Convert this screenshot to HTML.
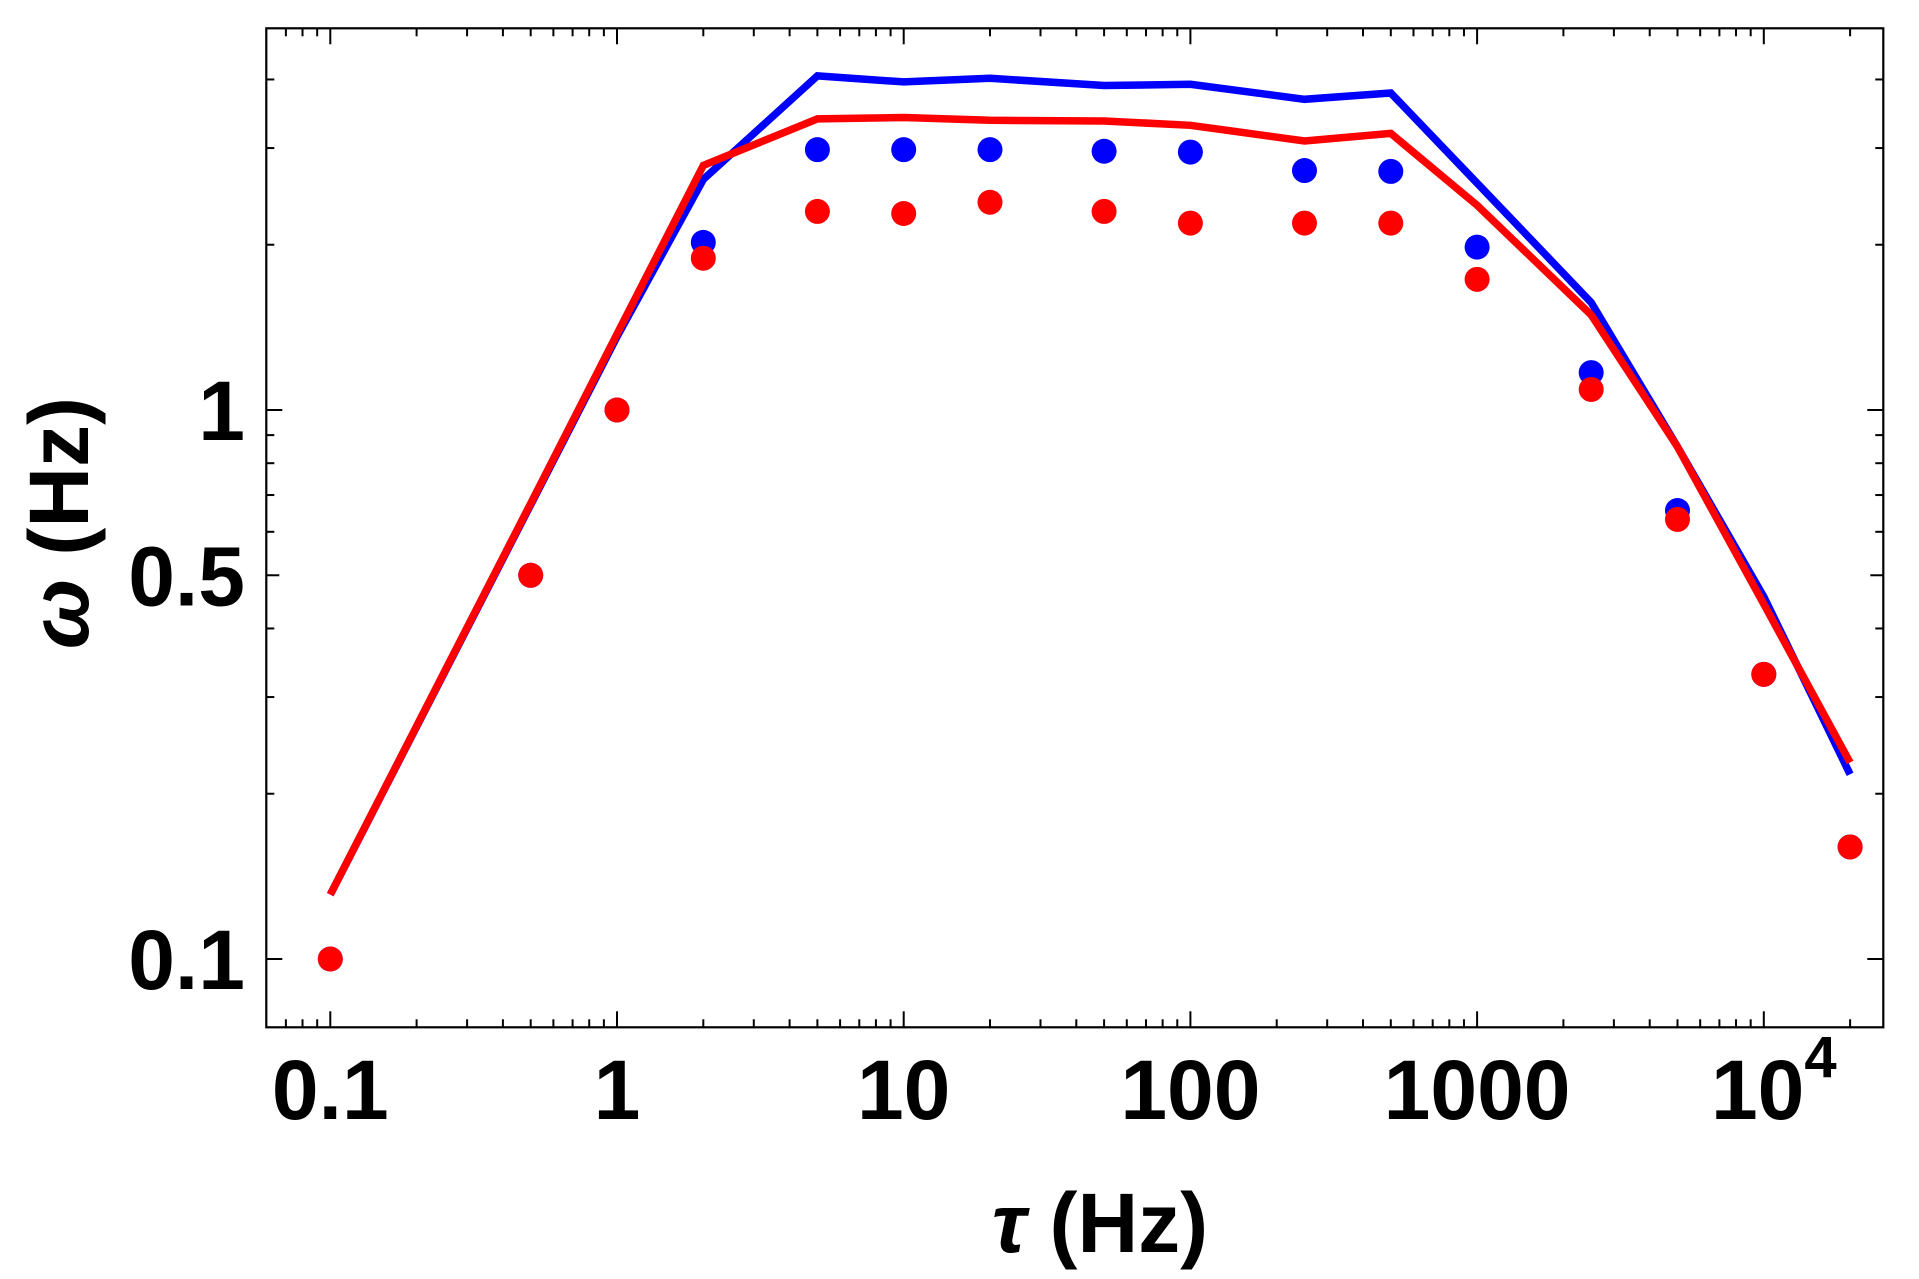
<!DOCTYPE html>
<html><head><meta charset="utf-8"><style>
html,body{margin:0;padding:0;background:#fff;}
svg{display:block;font-family:"Liberation Sans",sans-serif;}
</style></head><body>
<svg id="chart" width="1919" height="1279" viewBox="0 0 1919 1279" xmlns="http://www.w3.org/2000/svg">
<rect x="266.3" y="28.3" width="1617" height="999" fill="none" stroke="#000" stroke-width="2.2"/>
<g id="ticks"></g>
<g id="lines"></g>
<g id="dots"></g>
<g id="labels" font-weight="bold" font-size="84"></g>
<text x="1100" y="1252" text-anchor="middle" font-weight="bold" font-size="84"><tspan font-style="italic">τ</tspan> (Hz)</text>
<text transform="translate(88,523) rotate(-90)" text-anchor="middle" font-weight="bold" font-size="84"><tspan font-style="italic">ω</tspan> (Hz)</text>
</svg>
<script>
const xVals = [0.1, 0.5, 1, 2, 5, 10, 20, 50, 100, 250, 500, 1000, 2500, 5000, 10000, 20000];
const blueLine = [0.131, 0.672, 1.36, 2.63, 4.06, 3.96, 4.02, 3.90, 3.92, 3.68, 3.78, 2.59, 1.57, 0.857, 0.457, 0.217];
const redLine  = [0.131, 0.676, 1.375, 2.79, 3.39, 3.41, 3.37, 3.36, 3.30, 3.09, 3.19, 2.36, 1.49, 0.857, 0.443, 0.228];
const blueDots = [0.1, 0.5, 1, 2.02, 2.98, 2.98, 2.98, 2.96, 2.95, 2.73, 2.72, 1.98, 1.17, 0.656, 0.330, 0.160];
const redDots  = [0.1, 0.5, 1, 1.89, 2.30, 2.28, 2.39, 2.30, 2.19, 2.19, 2.19, 1.73, 1.09, 0.632, 0.330, 0.160];
const xTickLabels = ["0.1", "1", "10", "100", "1000", "10^4"];
const xTickValues = [0.1, 1, 10, 100, 1000, 10000];
const yTickLabels = ["0.1", "0.5", "1"];
const yTickValues = [0.1, 0.5, 1];

const NS = "http://www.w3.org/2000/svg";
const X0 = 330.3, XD = 286.7, Y0 = 410, YD = 549;
const L = 266.3, R = 1883.3, T = 28.3, B = 1027.3;
function sx(v){ return X0 + (Math.log10(v) + 1) * XD; }
function sy(v){ return Y0 - Math.log10(v) * YD; }
function mk(tag, attrs, parent){ const e = document.createElementNS(NS, tag); for (const k in attrs) e.setAttribute(k, attrs[k]); parent.appendChild(e); return e; }

const tg = document.getElementById('ticks');
for (let d = -2; d <= 4; d++) {
  for (let m = 1; m <= 9; m++) {
    const v = m * Math.pow(10, d);
    const x = sx(v);
    if (x < L + 1 || x > R - 1) continue;
    const len = m === 1 ? 16 : 8;
    const t1 = mk('line', {x1:x, x2:x, y1:B, y2:B-len, stroke:'#000', 'stroke-width':2}, tg);
    
    
    const t2 = mk('line', {x1:x, x2:x, y1:T, y2:T+len, stroke:'#000', 'stroke-width':2}, tg);
    
    
  }
}
const yMinor = [0.1,0.2,0.3,0.4,0.5,0.6,0.7,0.8,0.9,1,2,3,4];
yMinor.forEach(v => {
  const y = sy(v);
  const len = (v === 0.1 || v === 1) ? 16 : (v === 0.5 ? 13 : 8);
  const t1 = mk('line', {x1:L, x2:L+len, y1:y, y2:y, stroke:'#000', 'stroke-width':2}, tg);
  
  
  const t2 = mk('line', {x1:R, x2:R-len, y1:y, y2:y, stroke:'#000', 'stroke-width':2}, tg);
  
  
});

const lg = document.getElementById('labels');
xTickValues.forEach((v, i) => {
  const lab = xTickLabels[i];
  const t = mk('text', {x: sx(v), y: 1119, 'text-anchor':'middle'}, lg);
  
  
  if (lab.indexOf('^') > 0) {
    const [b, e] = lab.split('^');
    t.setAttribute('x', sx(v) + 10);
    const s1 = mk('tspan', {}, t); s1.textContent = b;
    const s2 = mk('tspan', {dy: -42, 'font-size': 58}, t); s2.textContent = e;
  } else {
    t.textContent = lab;
  }
});
yTickValues.forEach((v, i) => {
  const t = mk('text', {x: 245, y: sy(v) + 30, 'text-anchor':'end'}, lg);
  
  
  t.textContent = yTickLabels[i];
});

const ln = document.getElementById('lines');
function drawLine(vals, color, name){
  const pts = xVals.map((x, i) => sx(x).toFixed(1) + ',' + sy(vals[i]).toFixed(1)).join(' ');
  const p = mk('polyline', {points: pts, fill:'none', stroke: color, 'stroke-width': 7.5, 'stroke-linejoin':'miter'}, ln);
  
  
}
drawLine(blueLine, '#0000ff', 'blue-line');
drawLine(redLine, '#ff0000', 'red-line');

const dg = document.getElementById('dots');
function drawDots(vals, color, name){
  xVals.forEach((x, i) => {
    const c = mk('circle', {cx: sx(x), cy: sy(vals[i]), r: 12.5, fill: color}, dg);
    
    
  });
}
drawDots(blueDots, '#0000ff', 'blue-dot');
drawDots(redDots, '#ff0000', 'red-dot');
</script>
</body></html>
